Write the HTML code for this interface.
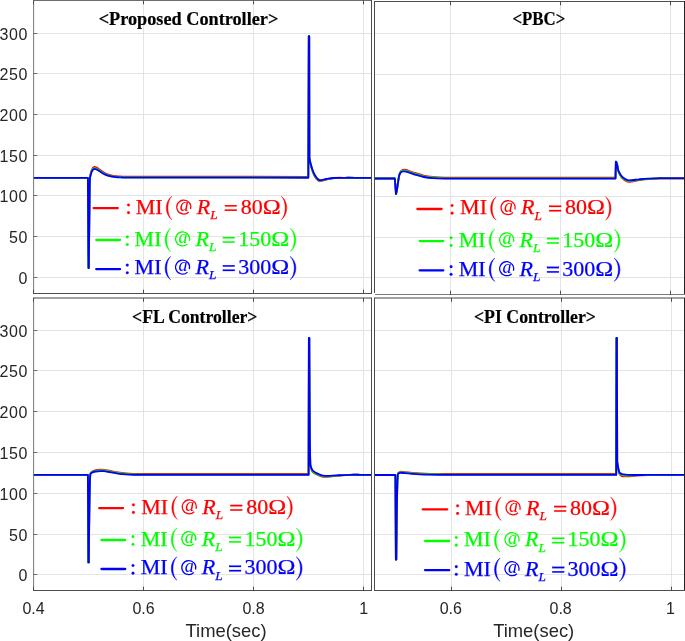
<!DOCTYPE html>
<html><head><meta charset="utf-8"><title>MI response comparison</title>
<style>
html,body{margin:0;padding:0;background:#fff;}
body{width:685px;height:641px;position:relative;overflow:hidden;}
svg text{white-space:pre;}
svg{will-change:transform;}
</style></head><body>
<svg width="685" height="641" viewBox="0 0 685 641" style="position:absolute;left:0;top:0">
<rect x="0" y="0" width="685" height="641" fill="#ffffff"/>
<path d="M143.50 0.50V293.50M253.50 0.50V293.50M363.50 0.50V293.50M33.50 277.50H371.50M33.50 236.50H371.50M33.50 195.50H371.50M33.50 155.50H371.50M33.50 114.50H371.50M33.50 73.50H371.50M33.50 33.50H371.50" stroke="#e3e3e3" stroke-width="1" fill="none"/>
<path d="M450.50 1.50V294.50M560.50 1.50V294.50M670.50 1.50V294.50M374.50 277.50H684.50M374.50 237.50H684.50M374.50 196.50H684.50M374.50 155.50H684.50M374.50 114.50H684.50M374.50 74.50H684.50M374.50 33.50H684.50" stroke="#e3e3e3" stroke-width="1" fill="none"/>
<path d="M143.50 298.00V590.50M253.50 298.00V590.50M363.50 298.00V590.50M33.50 574.50H371.50M33.50 534.50H371.50M33.50 493.50H371.50M33.50 452.50H371.50M33.50 411.50H371.50M33.50 370.50H371.50M33.50 330.50H371.50" stroke="#e3e3e3" stroke-width="1" fill="none"/>
<path d="M451.50 298.00V590.50M561.50 298.00V590.50M671.50 298.00V590.50M374.50 574.50H684.50M374.50 534.50H684.50M374.50 493.50H684.50M374.50 452.50H684.50M374.50 411.50H684.50M374.50 370.50H684.50M374.50 330.50H684.50" stroke="#e3e3e3" stroke-width="1" fill="none"/>
<path d="M33.50 177.80L87.90 177.80L88.50 268.00L88.80 268.00L89.70 185.00L90.00 176.80C90.15 176.11 90.60 173.80 90.90 172.66C91.20 171.51 91.50 170.67 91.80 169.93C92.10 169.20 92.40 168.69 92.70 168.26C93.00 167.83 93.30 167.57 93.60 167.36C93.90 167.16 94.20 167.07 94.50 167.02C94.80 166.97 95.10 167.01 95.40 167.07C95.70 167.13 96.00 167.25 96.30 167.39C96.60 167.53 96.90 167.70 97.20 167.88C97.50 168.07 97.80 168.28 98.10 168.48C98.40 168.69 98.70 168.92 99.00 169.14C99.30 169.36 99.60 169.59 99.90 169.81C100.20 170.04 100.50 170.26 100.80 170.48C101.10 170.70 101.40 170.92 101.70 171.13C102.00 171.33 102.30 171.54 102.60 171.73C102.90 171.93 103.20 172.12 103.50 172.30C103.80 172.48 104.10 172.66 104.40 172.82C104.70 172.99 105.00 173.14 105.30 173.30C105.60 173.45 105.90 173.59 106.20 173.72C106.50 173.86 106.80 173.99 107.10 174.11C107.40 174.23 107.70 174.34 108.00 174.45C108.30 174.56 108.60 174.66 108.90 174.75C109.20 174.85 109.50 174.94 109.80 175.02C110.10 175.11 110.40 175.19 110.70 175.26C111.00 175.33 111.30 175.40 111.60 175.47C111.90 175.53 112.20 175.59 112.50 175.65C112.80 175.71 113.10 175.76 113.40 175.81C113.70 175.86 114.00 175.90 114.30 175.95C114.60 175.99 114.90 176.03 115.20 176.07C115.50 176.10 115.80 176.14 116.10 176.17C116.40 176.20 116.70 176.23 117.00 176.26C117.30 176.29 117.60 176.31 117.90 176.34C118.20 176.36 118.50 176.38 118.80 176.40C119.10 176.42 119.40 176.44 119.70 176.46C120.00 176.48 120.30 176.50 120.60 176.51C120.90 176.53 121.20 176.54 121.50 176.55C121.80 176.57 122.10 176.58 122.40 176.59C122.70 176.60 123.00 176.61 123.30 176.62C123.60 176.63 123.90 176.64 124.20 176.65C124.50 176.66 124.80 176.66 125.10 176.67C125.40 176.68 125.85 176.69 126.00 176.69L308.30 176.80L308.80 36.20L309.20 36.20L309.40 158.00C309.60 159.03 310.02 161.83 310.60 164.20C311.18 166.57 312.12 170.02 312.90 172.20C313.68 174.38 314.23 175.83 315.30 177.30C316.37 178.77 317.48 180.62 319.30 181.00C321.12 181.38 323.75 180.10 326.20 179.60C328.65 179.10 330.87 178.30 334.00 178.00C337.13 177.70 341.50 177.83 345.00 177.80C348.50 177.77 353.33 177.80 355.00 177.80L371.50 177.80" stroke="#ff0000" stroke-width="1.85" fill="none" stroke-linejoin="round" stroke-linecap="butt"/>
<path d="M33.50 177.80L87.90 177.80L88.50 268.00L88.80 268.00L89.70 185.00L90.00 177.40C90.15 176.75 90.60 174.59 90.90 173.51C91.20 172.44 91.50 171.64 91.80 170.95C92.10 170.27 92.40 169.79 92.70 169.38C93.00 168.98 93.30 168.73 93.60 168.54C93.90 168.35 94.20 168.26 94.50 168.22C94.80 168.17 95.10 168.21 95.40 168.27C95.70 168.32 96.00 168.44 96.30 168.57C96.60 168.69 96.90 168.86 97.20 169.03C97.50 169.20 97.80 169.40 98.10 169.59C98.40 169.79 98.70 170.00 99.00 170.21C99.30 170.42 99.60 170.63 99.90 170.84C100.20 171.05 100.50 171.26 100.80 171.47C101.10 171.67 101.40 171.88 101.70 172.07C102.00 172.27 102.30 172.46 102.60 172.64C102.90 172.83 103.20 173.01 103.50 173.18C103.80 173.35 104.10 173.51 104.40 173.66C104.70 173.82 105.00 173.97 105.30 174.11C105.60 174.25 105.90 174.38 106.20 174.51C106.50 174.64 106.80 174.76 107.10 174.87C107.40 174.99 107.70 175.09 108.00 175.19C108.30 175.30 108.60 175.39 108.90 175.48C109.20 175.57 109.50 175.65 109.80 175.73C110.10 175.81 110.40 175.89 110.70 175.95C111.00 176.02 111.30 176.09 111.60 176.15C111.90 176.21 112.20 176.27 112.50 176.32C112.80 176.37 113.10 176.42 113.40 176.47C113.70 176.52 114.00 176.56 114.30 176.60C114.60 176.64 114.90 176.68 115.20 176.71C115.50 176.75 115.80 176.78 116.10 176.81C116.40 176.84 116.70 176.87 117.00 176.89C117.30 176.92 117.60 176.94 117.90 176.97C118.20 176.99 118.50 177.01 118.80 177.03C119.10 177.05 119.40 177.07 119.70 177.08C120.00 177.10 120.30 177.11 120.60 177.13C120.90 177.14 121.20 177.16 121.50 177.17C121.80 177.18 122.10 177.19 122.40 177.20C122.70 177.21 123.00 177.22 123.30 177.23C123.60 177.24 123.90 177.25 124.20 177.26C124.50 177.26 124.80 177.27 125.10 177.28C125.40 177.28 125.85 177.29 126.00 177.30L308.30 177.40L308.80 36.20L309.20 36.20L309.40 158.00C309.60 158.97 310.02 161.53 310.60 163.80C311.18 166.07 312.12 169.47 312.90 171.60C313.68 173.73 314.23 175.12 315.30 176.60C316.37 178.08 317.48 180.05 319.30 180.50C321.12 180.95 323.75 179.72 326.20 179.30C328.65 178.88 330.87 178.25 334.00 178.00C337.13 177.75 341.50 177.83 345.00 177.80C348.50 177.77 353.33 177.80 355.00 177.80L371.50 177.80" stroke="#00ff00" stroke-width="1.85" fill="none" stroke-linejoin="round" stroke-linecap="butt"/>
<path d="M33.50 177.80L87.90 177.80L88.50 268.00L88.80 268.00L89.70 185.00L90.00 177.70C90.15 177.09 90.60 175.04 90.90 174.02C91.20 173.01 91.50 172.26 91.80 171.60C92.10 170.95 92.40 170.50 92.70 170.12C93.00 169.74 93.30 169.51 93.60 169.32C93.90 169.14 94.20 169.06 94.50 169.02C94.80 168.97 95.10 169.01 95.40 169.06C95.70 169.12 96.00 169.23 96.30 169.35C96.60 169.47 96.90 169.62 97.20 169.78C97.50 169.95 97.80 170.13 98.10 170.32C98.40 170.50 98.70 170.70 99.00 170.90C99.30 171.10 99.60 171.30 99.90 171.50C100.20 171.70 100.50 171.90 100.80 172.09C101.10 172.29 101.40 172.48 101.70 172.66C102.00 172.85 102.30 173.03 102.60 173.20C102.90 173.38 103.20 173.54 103.50 173.71C103.80 173.87 104.10 174.02 104.40 174.17C104.70 174.31 105.00 174.46 105.30 174.59C105.60 174.72 105.90 174.85 106.20 174.97C106.50 175.09 106.80 175.20 107.10 175.31C107.40 175.42 107.70 175.52 108.00 175.61C108.30 175.71 108.60 175.80 108.90 175.88C109.20 175.97 109.50 176.05 109.80 176.12C110.10 176.20 110.40 176.27 110.70 176.33C111.00 176.40 111.30 176.46 111.60 176.52C111.90 176.58 112.20 176.63 112.50 176.68C112.80 176.73 113.10 176.78 113.40 176.82C113.70 176.86 114.00 176.90 114.30 176.94C114.60 176.98 114.90 177.02 115.20 177.05C115.50 177.08 115.80 177.11 116.10 177.14C116.40 177.17 116.70 177.20 117.00 177.22C117.30 177.24 117.60 177.27 117.90 177.29C118.20 177.31 118.50 177.33 118.80 177.35C119.10 177.37 119.40 177.38 119.70 177.40C120.00 177.42 120.30 177.43 120.60 177.44C120.90 177.46 121.20 177.47 121.50 177.48C121.80 177.49 122.10 177.50 122.40 177.51C122.70 177.52 123.00 177.53 123.30 177.54C123.60 177.55 123.90 177.56 124.20 177.56C124.50 177.57 124.80 177.58 125.10 177.58C125.40 177.59 125.85 177.60 126.00 177.60L308.30 177.70L308.80 36.20L309.20 36.20L309.40 158.00C309.60 158.90 310.02 161.23 310.60 163.40C311.18 165.57 312.12 168.92 312.90 171.00C313.68 173.08 314.23 174.40 315.30 175.90C316.37 177.40 317.48 179.48 319.30 180.00C321.12 180.52 323.75 179.33 326.20 179.00C328.65 178.67 330.87 178.20 334.00 178.00C337.13 177.80 341.50 177.83 345.00 177.80C348.50 177.77 353.33 177.80 355.00 177.80L371.50 177.80" stroke="#0000ff" stroke-width="1.85" fill="none" stroke-linejoin="round" stroke-linecap="butt"/>
<path d="M374.50 178.50L394.80 178.50L396.00 194.00C396.80 192.33 397.37 187.08 397.80 184.00C398.23 180.92 398.70 177.62 399.20 175.50C399.70 173.38 400.17 172.23 400.80 171.28C401.43 170.33 402.13 170.01 403.00 169.80C403.87 169.59 404.83 169.75 406.00 170.00C407.17 170.25 408.50 170.80 410.00 171.30C411.50 171.80 412.70 172.29 415.00 173.00C417.30 173.71 420.88 174.92 423.80 175.56C426.72 176.20 428.97 176.50 432.50 176.84C436.03 177.18 440.42 177.47 445.00 177.60C449.58 177.73 457.50 177.60 460.00 177.60L615.50 177.60L615.90 161.60C616.63 162.27 617.02 164.03 617.30 165.60C617.58 167.17 617.60 169.17 618.20 171.00C618.80 172.83 619.87 175.10 620.90 176.60C621.93 178.10 623.08 179.13 624.40 180.00C625.72 180.87 626.30 181.78 628.80 181.80C631.30 181.82 636.17 180.57 639.40 180.10C642.63 179.63 644.77 179.25 648.20 179.00C651.63 178.75 656.37 178.67 660.00 178.60C663.63 178.53 668.33 178.60 670.00 178.60L684.50 178.60" stroke="#ff0000" stroke-width="1.85" fill="none" stroke-linejoin="round" stroke-linecap="butt"/>
<path d="M374.50 178.50L394.80 178.50L396.00 194.00C396.80 192.33 397.37 187.08 397.80 184.00C398.23 180.92 398.70 177.53 399.20 175.50C399.70 173.47 400.17 172.66 400.80 171.84C401.43 171.02 402.13 170.77 403.00 170.60C403.87 170.43 404.83 170.55 406.00 170.80C407.17 171.05 408.50 171.60 410.00 172.10C411.50 172.60 412.70 173.10 415.00 173.80C417.30 174.50 420.88 175.66 423.80 176.28C426.72 176.90 428.97 177.18 432.50 177.52C436.03 177.86 440.42 178.17 445.00 178.30C449.58 178.43 457.50 178.30 460.00 178.30L615.50 178.30L615.90 161.60C616.63 162.22 617.02 163.82 617.30 165.30C617.58 166.78 617.60 168.73 618.20 170.50C618.80 172.27 619.87 174.43 620.90 175.90C621.93 177.37 623.08 178.43 624.40 179.30C625.72 180.17 626.30 181.03 628.80 181.10C631.30 181.17 636.17 180.08 639.40 179.70C642.63 179.32 644.77 179.03 648.20 178.80C651.63 178.57 656.37 178.38 660.00 178.30C663.63 178.22 668.33 178.30 670.00 178.30L684.50 178.30" stroke="#00ff00" stroke-width="1.85" fill="none" stroke-linejoin="round" stroke-linecap="butt"/>
<path d="M374.50 178.50L394.80 178.50L396.00 194.00C396.80 192.33 397.37 187.08 397.80 184.00C398.23 180.92 398.70 177.43 399.20 175.50C399.70 173.57 400.17 173.08 400.80 172.40C401.43 171.72 402.13 171.53 403.00 171.40C403.87 171.27 404.83 171.35 406.00 171.60C407.17 171.85 408.50 172.40 410.00 172.90C411.50 173.40 412.70 173.92 415.00 174.60C417.30 175.28 420.88 176.40 423.80 177.00C426.72 177.60 428.97 177.93 432.50 178.20C436.03 178.47 440.42 178.53 445.00 178.60C449.58 178.67 457.50 178.60 460.00 178.60L615.50 178.60L615.90 161.60C616.63 162.17 617.02 163.60 617.30 165.00C617.58 166.40 617.60 168.30 618.20 170.00C618.80 171.70 619.87 173.77 620.90 175.20C621.93 176.63 623.08 177.73 624.40 178.60C625.72 179.47 626.30 180.28 628.80 180.40C631.30 180.52 636.17 179.60 639.40 179.30C642.63 179.00 644.77 178.80 648.20 178.60C651.63 178.40 656.37 178.18 660.00 178.10C663.63 178.02 668.33 178.10 670.00 178.10L684.50 178.10" stroke="#0000ff" stroke-width="1.85" fill="none" stroke-linejoin="round" stroke-linecap="butt"/>
<path d="M33.50 474.80L87.90 474.80L88.40 562.40L88.80 562.40C89.52 476.32 89.98 473.89 90.60 472.90C91.22 471.91 92.10 471.55 93.00 471.08C93.90 470.61 94.83 470.33 96.00 470.10C97.17 469.87 98.67 469.75 100.00 469.70C101.33 469.65 102.33 469.59 104.00 469.80C105.67 470.01 107.67 470.49 110.00 470.94C112.33 471.39 115.33 472.07 118.00 472.48C120.67 472.89 123.00 473.18 126.00 473.42C129.00 473.66 134.33 473.82 136.00 473.90L308.60 473.90L308.90 338.00L309.30 338.00C309.75 462.68 310.03 464.52 310.50 466.10C310.97 467.68 311.48 470.13 312.40 471.50C313.32 472.87 314.42 473.47 316.00 474.30C317.58 475.13 319.95 476.07 321.90 476.50C323.85 476.93 325.27 477.02 327.70 476.90C330.13 476.78 332.78 476.15 336.50 475.80C340.22 475.45 346.08 474.97 350.00 474.80C353.92 474.63 358.33 474.80 360.00 474.80L371.50 474.80" stroke="#ff0000" stroke-width="1.85" fill="none" stroke-linejoin="round" stroke-linecap="butt"/>
<path d="M33.50 474.80L87.90 474.80L88.40 562.40L88.80 562.40C89.52 476.38 89.98 474.14 90.60 473.25C91.22 472.36 92.10 472.05 93.00 471.64C93.90 471.23 94.83 471.01 96.00 470.80C97.17 470.59 98.67 470.45 100.00 470.40C101.33 470.35 102.33 470.31 104.00 470.50C105.67 470.69 107.67 471.15 110.00 471.57C112.33 471.99 115.33 472.65 118.00 473.04C120.67 473.43 123.00 473.65 126.00 473.91C129.00 474.17 134.33 474.49 136.00 474.60L308.60 474.60L308.90 338.00L309.30 338.00C309.75 462.63 310.03 464.32 310.50 465.80C310.97 467.28 311.48 469.60 312.40 470.90C313.32 472.20 314.42 472.77 316.00 473.60C317.58 474.43 319.95 475.43 321.90 475.90C323.85 476.37 325.27 476.45 327.70 476.40C330.13 476.35 332.78 475.87 336.50 475.60C340.22 475.33 346.08 474.93 350.00 474.80C353.92 474.67 358.33 474.80 360.00 474.80L371.50 474.80" stroke="#00ff00" stroke-width="1.85" fill="none" stroke-linejoin="round" stroke-linecap="butt"/>
<path d="M33.50 474.80L87.90 474.80L88.40 562.40L88.80 562.40C89.52 476.43 89.98 474.40 90.60 473.60C91.22 472.80 92.10 472.55 93.00 472.20C93.90 471.85 94.83 471.68 96.00 471.50C97.17 471.32 98.67 471.15 100.00 471.10C101.33 471.05 102.33 471.02 104.00 471.20C105.67 471.38 107.67 471.80 110.00 472.20C112.33 472.60 115.33 473.23 118.00 473.60C120.67 473.97 123.00 474.18 126.00 474.40C129.00 474.62 134.33 474.82 136.00 474.90L308.60 474.90L308.90 338.00L309.30 338.00C309.75 462.58 310.03 464.12 310.50 465.50C310.97 466.88 311.48 469.07 312.40 470.30C313.32 471.53 314.42 472.07 316.00 472.90C317.58 473.73 319.95 474.80 321.90 475.30C323.85 475.80 325.27 475.88 327.70 475.90C330.13 475.92 332.78 475.58 336.50 475.40C340.22 475.22 346.08 474.90 350.00 474.80C353.92 474.70 358.33 474.80 360.00 474.80L371.50 474.80" stroke="#0000ff" stroke-width="1.85" fill="none" stroke-linejoin="round" stroke-linecap="butt"/>
<path d="M374.50 475.00L395.40 475.00L395.90 559.50L396.30 559.50C397.03 475.52 397.62 473.80 398.20 473.10C398.78 472.40 399.17 471.97 400.30 471.80C401.43 471.63 403.05 471.93 405.00 472.10C406.95 472.27 409.50 472.58 412.00 472.80C414.50 473.02 417.00 473.23 420.00 473.40C423.00 473.57 425.83 473.72 430.00 473.80C434.17 473.88 440.83 473.88 445.00 473.90C449.17 473.92 453.33 473.90 455.00 473.90L616.20 473.90L616.50 338.00L616.90 338.00L617.20 462.00C617.33 462.88 617.67 465.40 618.00 467.30C618.33 469.20 618.70 472.02 619.20 473.40C619.70 474.78 620.33 475.10 621.00 475.60C621.67 476.10 622.03 476.28 623.20 476.40C624.37 476.52 625.20 476.47 628.00 476.30C630.80 476.13 635.50 475.65 640.00 475.40C644.50 475.15 652.50 474.90 655.00 474.80L684.50 474.80" stroke="#ff0000" stroke-width="1.85" fill="none" stroke-linejoin="round" stroke-linecap="butt"/>
<path d="M374.50 475.00L395.40 475.00L395.90 559.50L396.30 559.50C397.03 475.56 397.62 473.97 398.20 473.35C398.78 472.73 399.17 472.43 400.30 472.30C401.43 472.18 403.05 472.43 405.00 472.60C406.95 472.77 409.50 473.08 412.00 473.30C414.50 473.52 417.00 473.74 420.00 473.90C423.00 474.06 425.83 474.13 430.00 474.25C434.17 474.37 440.83 474.54 445.00 474.60C449.17 474.66 453.33 474.60 455.00 474.60L616.20 474.60L616.50 338.00L616.90 338.00L617.20 462.00C617.33 462.82 617.67 465.13 618.00 466.90C618.33 468.67 618.70 471.32 619.20 472.60C619.70 473.88 620.33 474.13 621.00 474.60C621.67 475.07 622.03 475.23 623.20 475.40C624.37 475.57 625.20 475.63 628.00 475.60C630.80 475.57 635.50 475.33 640.00 475.20C644.50 475.07 652.50 474.87 655.00 474.80L684.50 474.80" stroke="#00ff00" stroke-width="1.85" fill="none" stroke-linejoin="round" stroke-linecap="butt"/>
<path d="M374.50 475.00L395.40 475.00L395.90 559.50L396.30 559.50C397.03 475.60 397.62 474.13 398.20 473.60C398.78 473.07 399.17 472.88 400.30 472.80C401.43 472.72 403.05 472.93 405.00 473.10C406.95 473.27 409.50 473.58 412.00 473.80C414.50 474.02 417.00 474.25 420.00 474.40C423.00 474.55 425.83 474.62 430.00 474.70C434.17 474.78 440.83 474.87 445.00 474.90C449.17 474.93 453.33 474.90 455.00 474.90L616.20 474.90L616.50 338.00L616.90 338.00L617.20 462.00C617.33 462.75 617.67 464.87 618.00 466.50C618.33 468.13 618.70 470.62 619.20 471.80C619.70 472.98 620.33 473.17 621.00 473.60C621.67 474.03 622.03 474.18 623.20 474.40C624.37 474.62 625.20 474.80 628.00 474.90C630.80 475.00 635.50 475.02 640.00 475.00C644.50 474.98 652.50 474.83 655.00 474.80L684.50 474.80" stroke="#0000ff" stroke-width="1.85" fill="none" stroke-linejoin="round" stroke-linecap="butt"/>
<line x1="33.62" y1="0" x2="33.62" y2="294" stroke="#777" stroke-width="1"/>
<line x1="33" y1="0.5" x2="372" y2="0.5" stroke="#6e6e6e" stroke-width="1"/>
<line x1="371.5" y1="0" x2="371.5" y2="294" stroke="#4d4d4d" stroke-width="1"/>
<line x1="33" y1="293.5" x2="372" y2="293.5" stroke="#4d4d4d" stroke-width="1"/>
<line x1="374.5" y1="1" x2="374.5" y2="293" stroke="#4d4d4d" stroke-width="1"/>
<line x1="374" y1="1.5" x2="685" y2="1.5" stroke="#4d4d4d" stroke-width="1"/>
<line x1="684.5" y1="1" x2="684.5" y2="295" stroke="#222" stroke-width="1"/>
<line x1="375" y1="294.5" x2="685" y2="294.5" stroke="#7a7a7a" stroke-width="1"/>
<line x1="33.62" y1="298" x2="33.62" y2="591" stroke="#777" stroke-width="1"/>
<line x1="33" y1="298.0" x2="372" y2="298.0" stroke="#444" stroke-width="1"/>
<line x1="371.5" y1="298" x2="371.5" y2="591" stroke="#4d4d4d" stroke-width="1"/>
<line x1="33" y1="590.5" x2="372" y2="590.5" stroke="#4d4d4d" stroke-width="1"/>
<line x1="374.5" y1="298" x2="374.5" y2="591" stroke="#4d4d4d" stroke-width="1"/>
<line x1="374" y1="298.0" x2="685" y2="298.0" stroke="#444" stroke-width="1"/>
<line x1="684.5" y1="298" x2="684.5" y2="591" stroke="#222" stroke-width="1"/>
<line x1="374" y1="590.5" x2="685" y2="590.5" stroke="#4d4d4d" stroke-width="1"/>
<path d="M33.50 277.50h3.8M33.50 236.50h3.8M33.50 195.50h3.8M33.50 155.50h3.8M33.50 114.50h3.8M33.50 73.50h3.8M33.50 33.50h3.8" stroke="#707070" stroke-width="1" fill="none"/>
<path d="M33.50 293.50v-3.8M33.50 0.50v3.8M143.50 293.50v-3.8M143.50 0.50v3.8M253.50 293.50v-3.8M253.50 0.50v3.8M363.50 293.50v-3.8M363.50 0.50v3.8" stroke="#4d4d4d" stroke-width="1" fill="none"/>
<path d="M450.50 294.50v-3.8M450.50 1.50v3.8M560.50 294.50v-3.8M560.50 1.50v3.8M670.50 294.50v-3.8M670.50 1.50v3.8" stroke="#4d4d4d" stroke-width="1" fill="none"/>
<path d="M33.50 574.50h3.8M33.50 534.50h3.8M33.50 493.50h3.8M33.50 452.50h3.8M33.50 411.50h3.8M33.50 370.50h3.8M33.50 330.50h3.8" stroke="#707070" stroke-width="1" fill="none"/>
<path d="M33.50 590.50v-3.8M33.50 298.00v3.8M143.50 590.50v-3.8M143.50 298.00v3.8M253.50 590.50v-3.8M253.50 298.00v3.8M363.50 590.50v-3.8M363.50 298.00v3.8" stroke="#4d4d4d" stroke-width="1" fill="none"/>
<path d="M451.50 590.50v-3.8M451.50 298.00v3.8M561.50 590.50v-3.8M561.50 298.00v3.8M671.50 590.50v-3.8M671.50 298.00v3.8" stroke="#4d4d4d" stroke-width="1" fill="none"/>
<g style="font-family:'Liberation Sans',sans-serif;font-size:16px" fill="#262626">
<text x="27.9" y="283.80" text-anchor="end" letter-spacing="0.6">0</text>
<text x="27.9" y="242.80" text-anchor="end" letter-spacing="0.6">50</text>
<text x="27.9" y="201.80" text-anchor="end" letter-spacing="0.6">100</text>
<text x="27.9" y="161.80" text-anchor="end" letter-spacing="0.6">150</text>
<text x="27.9" y="120.80" text-anchor="end" letter-spacing="0.6">200</text>
<text x="27.9" y="79.80" text-anchor="end" letter-spacing="0.6">250</text>
<text x="27.9" y="39.80" text-anchor="end" letter-spacing="0.6">300</text>
<text x="27.9" y="580.80" text-anchor="end" letter-spacing="0.6">0</text>
<text x="27.9" y="540.80" text-anchor="end" letter-spacing="0.6">50</text>
<text x="27.9" y="499.80" text-anchor="end" letter-spacing="0.6">100</text>
<text x="27.9" y="458.80" text-anchor="end" letter-spacing="0.6">150</text>
<text x="27.9" y="417.80" text-anchor="end" letter-spacing="0.6">200</text>
<text x="27.9" y="376.80" text-anchor="end" letter-spacing="0.6">250</text>
<text x="27.9" y="336.80" text-anchor="end" letter-spacing="0.6">300</text>
<text x="33.50" y="613.9" text-anchor="middle">0.4</text>
<text x="143.53" y="613.9" text-anchor="middle">0.6</text>
<text x="253.57" y="613.9" text-anchor="middle">0.8</text>
<text x="363.60" y="613.9" text-anchor="middle">1</text>
<text x="450.80" y="613.9" text-anchor="middle">0.6</text>
<text x="560.65" y="613.9" text-anchor="middle">0.8</text>
<text x="670.50" y="613.9" text-anchor="middle">1</text>
</g>
<g style="font-family:'Liberation Sans',sans-serif;font-size:18.4px" fill="#262626">
<text x="226.1" y="636.9" text-anchor="middle">Time(sec)</text>
<text x="533.7" y="636.9" text-anchor="middle">Time(sec)</text>
</g>
<g style="font-family:'Liberation Serif',serif;font-size:18px;font-weight:bold" fill="#000" stroke="#000" stroke-width="0.2">
<text x="98.7" y="24.7" textLength="179.6" lengthAdjust="spacingAndGlyphs">&lt;Proposed Controller&gt;</text>
<text x="512.4" y="24.5" textLength="52.9" lengthAdjust="spacingAndGlyphs">&lt;PBC&gt;</text>
<text x="132.1" y="322.6" textLength="125.3" lengthAdjust="spacingAndGlyphs">&lt;FL Controller&gt;</text>
<text x="474.0" y="323.0" textLength="122.0" lengthAdjust="spacingAndGlyphs">&lt;PI Controller&gt;</text>
</g>
<line x1="93.60" y1="208.1" x2="117.80" y2="208.1" stroke="#ff0000" stroke-width="2.3" stroke-linecap="round"/>
<g fill="#ff0000" stroke="#ff0000" stroke-width="0.25" style="font-family:'Liberation Serif',serif" transform="translate(136.10,213.90)">
<circle cx="-7.60" cy="-8.9" r="1.35"/><circle cx="-7.60" cy="-1.25" r="1.35"/>
<text x="-0.30" y="0" style="font-size:22px">MI</text>
<path d="M35.80 -17.60C28.33 -12.45 28.33 0.65 35.80 5.80C30.47 0.65 30.47 -12.45 35.80 -17.60Z" stroke="#ff0000" stroke-width="0.45"/>
<path d="M54.4 -4.9A7.0 7.0 0 1 0 52.6 -1.9" fill="none" stroke="#ff0000" stroke-width="1.25"/>
<text x="43.60" y="-2.90" stroke="none" style="font-size:18px;font-style:italic">a</text>
<text x="60.60" y="0" style="font-size:22px;font-style:italic">R</text>
<text x="74.10" y="5.3" style="font-size:13.3px;font-style:italic">L</text>
<rect x="88.80" y="-8.8" width="11.9" height="1.4"/><rect x="88.80" y="-4.4" width="11.9" height="1.4"/>
<text x="104.70" y="0" style="font-size:22px">80</text>
<text x="126.70" y="0" style="font-size:22px" transform="translate(126.70,0) scale(1.1,1) translate(-126.70,0)">Ω</text>
<path d="M145.20 -17.60C152.53 -12.45 152.53 0.65 145.20 5.80C150.40 0.65 150.40 -12.45 145.20 -17.60Z" stroke="#ff0000" stroke-width="0.45"/>
</g>
<line x1="96.30" y1="240.0" x2="120.00" y2="240.0" stroke="#00ff00" stroke-width="2.3" stroke-linecap="round"/>
<g fill="#00ff00" stroke="#00ff00" stroke-width="0.25" style="font-family:'Liberation Serif',serif" transform="translate(134.90,245.80)">
<circle cx="-7.60" cy="-8.9" r="1.35"/><circle cx="-7.60" cy="-1.25" r="1.35"/>
<text x="-0.30" y="0" style="font-size:22px">MI</text>
<path d="M35.80 -17.60C28.33 -12.45 28.33 0.65 35.80 5.80C30.47 0.65 30.47 -12.45 35.80 -17.60Z" stroke="#00ff00" stroke-width="0.45"/>
<path d="M54.4 -4.9A7.0 7.0 0 1 0 52.6 -1.9" fill="none" stroke="#00ff00" stroke-width="1.25"/>
<text x="43.60" y="-2.90" stroke="none" style="font-size:18px;font-style:italic">a</text>
<text x="60.60" y="0" style="font-size:22px;font-style:italic">R</text>
<text x="74.10" y="5.3" style="font-size:13.3px;font-style:italic">L</text>
<rect x="88.00" y="-8.8" width="11.9" height="1.4"/><rect x="88.00" y="-4.4" width="11.9" height="1.4"/>
<text x="103.30" y="0" style="font-size:22px">150</text>
<text x="136.30" y="0" style="font-size:22px" transform="translate(136.30,0) scale(1.1,1) translate(-136.30,0)">Ω</text>
<path d="M155.10 -17.60C162.97 -12.45 162.97 0.65 155.10 5.80C160.83 0.65 160.83 -12.45 155.10 -17.60Z" stroke="#00ff00" stroke-width="0.45"/>
</g>
<line x1="96.30" y1="269.2" x2="120.00" y2="269.2" stroke="#0000ff" stroke-width="2.3" stroke-linecap="round"/>
<g fill="#0000ff" stroke="#0000ff" stroke-width="0.25" style="font-family:'Liberation Serif',serif" transform="translate(134.90,274.00)">
<circle cx="-7.60" cy="-8.9" r="1.35"/><circle cx="-7.60" cy="-1.25" r="1.35"/>
<text x="-0.30" y="0" style="font-size:22px">MI</text>
<path d="M35.80 -17.60C28.33 -12.45 28.33 0.65 35.80 5.80C30.47 0.65 30.47 -12.45 35.80 -17.60Z" stroke="#0000ff" stroke-width="0.45"/>
<path d="M54.4 -4.9A7.0 7.0 0 1 0 52.6 -1.9" fill="none" stroke="#0000ff" stroke-width="1.25"/>
<text x="43.60" y="-2.90" stroke="none" style="font-size:18px;font-style:italic">a</text>
<text x="60.60" y="0" style="font-size:22px;font-style:italic">R</text>
<text x="74.10" y="5.3" style="font-size:13.3px;font-style:italic">L</text>
<rect x="88.00" y="-8.8" width="11.9" height="1.4"/><rect x="88.00" y="-4.4" width="11.9" height="1.4"/>
<text x="103.30" y="0" style="font-size:22px">300</text>
<text x="136.30" y="0" style="font-size:22px" transform="translate(136.30,0) scale(1.1,1) translate(-136.30,0)">Ω</text>
<path d="M155.10 -17.60C162.97 -12.45 162.97 0.65 155.10 5.80C160.83 0.65 160.83 -12.45 155.10 -17.60Z" stroke="#0000ff" stroke-width="0.45"/>
</g>
<line x1="417.40" y1="209.0" x2="441.60" y2="209.0" stroke="#ff0000" stroke-width="2.3" stroke-linecap="round"/>
<g fill="#ff0000" stroke="#ff0000" stroke-width="0.25" style="font-family:'Liberation Serif',serif" transform="translate(460.40,214.40)">
<circle cx="-8.30" cy="-8.9" r="1.35"/><circle cx="-8.30" cy="-1.25" r="1.35"/>
<text x="-0.30" y="0" style="font-size:22px">MI</text>
<path d="M35.80 -17.60C28.33 -12.45 28.33 0.65 35.80 5.80C30.47 0.65 30.47 -12.45 35.80 -17.60Z" stroke="#ff0000" stroke-width="0.45"/>
<path d="M54.4 -4.9A7.0 7.0 0 1 0 52.6 -1.9" fill="none" stroke="#ff0000" stroke-width="1.25"/>
<text x="43.60" y="-2.90" stroke="none" style="font-size:18px;font-style:italic">a</text>
<text x="60.60" y="0" style="font-size:22px;font-style:italic">R</text>
<text x="74.10" y="5.3" style="font-size:13.3px;font-style:italic">L</text>
<rect x="88.80" y="-8.8" width="11.9" height="1.4"/><rect x="88.80" y="-4.4" width="11.9" height="1.4"/>
<text x="104.70" y="0" style="font-size:22px">80</text>
<text x="126.70" y="0" style="font-size:22px" transform="translate(126.70,0) scale(1.1,1) translate(-126.70,0)">Ω</text>
<path d="M145.20 -17.60C152.53 -12.45 152.53 0.65 145.20 5.80C150.40 0.65 150.40 -12.45 145.20 -17.60Z" stroke="#ff0000" stroke-width="0.45"/>
</g>
<line x1="419.60" y1="241.1" x2="443.30" y2="241.1" stroke="#00ff00" stroke-width="2.3" stroke-linecap="round"/>
<g fill="#00ff00" stroke="#00ff00" stroke-width="0.25" style="font-family:'Liberation Serif',serif" transform="translate(459.00,246.70)">
<circle cx="-7.90" cy="-8.9" r="1.35"/><circle cx="-7.90" cy="-1.25" r="1.35"/>
<text x="-0.30" y="0" style="font-size:22px">MI</text>
<path d="M35.80 -17.60C28.33 -12.45 28.33 0.65 35.80 5.80C30.47 0.65 30.47 -12.45 35.80 -17.60Z" stroke="#00ff00" stroke-width="0.45"/>
<path d="M54.4 -4.9A7.0 7.0 0 1 0 52.6 -1.9" fill="none" stroke="#00ff00" stroke-width="1.25"/>
<text x="43.60" y="-2.90" stroke="none" style="font-size:18px;font-style:italic">a</text>
<text x="60.60" y="0" style="font-size:22px;font-style:italic">R</text>
<text x="74.10" y="5.3" style="font-size:13.3px;font-style:italic">L</text>
<rect x="88.00" y="-8.8" width="11.9" height="1.4"/><rect x="88.00" y="-4.4" width="11.9" height="1.4"/>
<text x="103.30" y="0" style="font-size:22px">150</text>
<text x="136.30" y="0" style="font-size:22px" transform="translate(136.30,0) scale(1.1,1) translate(-136.30,0)">Ω</text>
<path d="M155.10 -17.60C162.97 -12.45 162.97 0.65 155.10 5.80C160.83 0.65 160.83 -12.45 155.10 -17.60Z" stroke="#00ff00" stroke-width="0.45"/>
</g>
<line x1="419.60" y1="270.3" x2="443.30" y2="270.3" stroke="#0000ff" stroke-width="2.3" stroke-linecap="round"/>
<g fill="#0000ff" stroke="#0000ff" stroke-width="0.25" style="font-family:'Liberation Serif',serif" transform="translate(459.00,275.60)">
<circle cx="-7.90" cy="-8.9" r="1.35"/><circle cx="-7.90" cy="-1.25" r="1.35"/>
<text x="-0.30" y="0" style="font-size:22px">MI</text>
<path d="M35.80 -17.60C28.33 -12.45 28.33 0.65 35.80 5.80C30.47 0.65 30.47 -12.45 35.80 -17.60Z" stroke="#0000ff" stroke-width="0.45"/>
<path d="M54.4 -4.9A7.0 7.0 0 1 0 52.6 -1.9" fill="none" stroke="#0000ff" stroke-width="1.25"/>
<text x="43.60" y="-2.90" stroke="none" style="font-size:18px;font-style:italic">a</text>
<text x="60.60" y="0" style="font-size:22px;font-style:italic">R</text>
<text x="74.10" y="5.3" style="font-size:13.3px;font-style:italic">L</text>
<rect x="88.00" y="-8.8" width="11.9" height="1.4"/><rect x="88.00" y="-4.4" width="11.9" height="1.4"/>
<text x="103.30" y="0" style="font-size:22px">300</text>
<text x="136.30" y="0" style="font-size:22px" transform="translate(136.30,0) scale(1.1,1) translate(-136.30,0)">Ω</text>
<path d="M155.10 -17.60C162.97 -12.45 162.97 0.65 155.10 5.80C160.83 0.65 160.83 -12.45 155.10 -17.60Z" stroke="#0000ff" stroke-width="0.45"/>
</g>
<line x1="99.20" y1="508.1" x2="123.00" y2="508.1" stroke="#ff0000" stroke-width="2.3" stroke-linecap="round"/>
<g fill="#ff0000" stroke="#ff0000" stroke-width="0.25" style="font-family:'Liberation Serif',serif" transform="translate(141.60,513.70)">
<circle cx="-8.20" cy="-8.9" r="1.35"/><circle cx="-8.20" cy="-1.25" r="1.35"/>
<text x="-0.30" y="0" style="font-size:22px">MI</text>
<path d="M35.80 -17.60C28.33 -12.45 28.33 0.65 35.80 5.80C30.47 0.65 30.47 -12.45 35.80 -17.60Z" stroke="#ff0000" stroke-width="0.45"/>
<path d="M54.4 -4.9A7.0 7.0 0 1 0 52.6 -1.9" fill="none" stroke="#ff0000" stroke-width="1.25"/>
<text x="43.60" y="-2.90" stroke="none" style="font-size:18px;font-style:italic">a</text>
<text x="60.60" y="0" style="font-size:22px;font-style:italic">R</text>
<text x="74.10" y="5.3" style="font-size:13.3px;font-style:italic">L</text>
<rect x="88.80" y="-8.8" width="11.9" height="1.4"/><rect x="88.80" y="-4.4" width="11.9" height="1.4"/>
<text x="104.70" y="0" style="font-size:22px">80</text>
<text x="126.70" y="0" style="font-size:22px" transform="translate(126.70,0) scale(1.1,1) translate(-126.70,0)">Ω</text>
<path d="M145.20 -17.60C152.53 -12.45 152.53 0.65 145.20 5.80C150.40 0.65 150.40 -12.45 145.20 -17.60Z" stroke="#ff0000" stroke-width="0.45"/>
</g>
<line x1="101.50" y1="540.0" x2="125.20" y2="540.0" stroke="#00ff00" stroke-width="2.3" stroke-linecap="round"/>
<g fill="#00ff00" stroke="#00ff00" stroke-width="0.25" style="font-family:'Liberation Serif',serif" transform="translate(141.10,545.60)">
<circle cx="-8.10" cy="-8.9" r="1.35"/><circle cx="-8.10" cy="-1.25" r="1.35"/>
<text x="-0.30" y="0" style="font-size:22px">MI</text>
<path d="M35.80 -17.60C28.33 -12.45 28.33 0.65 35.80 5.80C30.47 0.65 30.47 -12.45 35.80 -17.60Z" stroke="#00ff00" stroke-width="0.45"/>
<path d="M54.4 -4.9A7.0 7.0 0 1 0 52.6 -1.9" fill="none" stroke="#00ff00" stroke-width="1.25"/>
<text x="43.60" y="-2.90" stroke="none" style="font-size:18px;font-style:italic">a</text>
<text x="60.60" y="0" style="font-size:22px;font-style:italic">R</text>
<text x="74.10" y="5.3" style="font-size:13.3px;font-style:italic">L</text>
<rect x="88.00" y="-8.8" width="11.9" height="1.4"/><rect x="88.00" y="-4.4" width="11.9" height="1.4"/>
<text x="103.30" y="0" style="font-size:22px">150</text>
<text x="136.30" y="0" style="font-size:22px" transform="translate(136.30,0) scale(1.1,1) translate(-136.30,0)">Ω</text>
<path d="M155.10 -17.60C162.97 -12.45 162.97 0.65 155.10 5.80C160.83 0.65 160.83 -12.45 155.10 -17.60Z" stroke="#00ff00" stroke-width="0.45"/>
</g>
<line x1="101.50" y1="569.0" x2="125.20" y2="569.0" stroke="#0000ff" stroke-width="2.3" stroke-linecap="round"/>
<g fill="#0000ff" stroke="#0000ff" stroke-width="0.25" style="font-family:'Liberation Serif',serif" transform="translate(141.10,574.40)">
<circle cx="-8.10" cy="-8.9" r="1.35"/><circle cx="-8.10" cy="-1.25" r="1.35"/>
<text x="-0.30" y="0" style="font-size:22px">MI</text>
<path d="M35.80 -17.60C28.33 -12.45 28.33 0.65 35.80 5.80C30.47 0.65 30.47 -12.45 35.80 -17.60Z" stroke="#0000ff" stroke-width="0.45"/>
<path d="M54.4 -4.9A7.0 7.0 0 1 0 52.6 -1.9" fill="none" stroke="#0000ff" stroke-width="1.25"/>
<text x="43.60" y="-2.90" stroke="none" style="font-size:18px;font-style:italic">a</text>
<text x="60.60" y="0" style="font-size:22px;font-style:italic">R</text>
<text x="74.10" y="5.3" style="font-size:13.3px;font-style:italic">L</text>
<rect x="88.00" y="-8.8" width="11.9" height="1.4"/><rect x="88.00" y="-4.4" width="11.9" height="1.4"/>
<text x="103.30" y="0" style="font-size:22px">300</text>
<text x="136.30" y="0" style="font-size:22px" transform="translate(136.30,0) scale(1.1,1) translate(-136.30,0)">Ω</text>
<path d="M155.10 -17.60C162.97 -12.45 162.97 0.65 155.10 5.80C160.83 0.65 160.83 -12.45 155.10 -17.60Z" stroke="#0000ff" stroke-width="0.45"/>
</g>
<line x1="422.70" y1="509.3" x2="447.20" y2="509.3" stroke="#ff0000" stroke-width="2.3" stroke-linecap="round"/>
<g fill="#ff0000" stroke="#ff0000" stroke-width="0.25" style="font-family:'Liberation Serif',serif" transform="translate(465.40,514.70)">
<circle cx="-7.80" cy="-8.9" r="1.35"/><circle cx="-7.80" cy="-1.25" r="1.35"/>
<text x="-0.30" y="0" style="font-size:22px">MI</text>
<path d="M35.80 -17.60C28.33 -12.45 28.33 0.65 35.80 5.80C30.47 0.65 30.47 -12.45 35.80 -17.60Z" stroke="#ff0000" stroke-width="0.45"/>
<path d="M54.4 -4.9A7.0 7.0 0 1 0 52.6 -1.9" fill="none" stroke="#ff0000" stroke-width="1.25"/>
<text x="43.60" y="-2.90" stroke="none" style="font-size:18px;font-style:italic">a</text>
<text x="60.60" y="0" style="font-size:22px;font-style:italic">R</text>
<text x="74.10" y="5.3" style="font-size:13.3px;font-style:italic">L</text>
<rect x="88.80" y="-8.8" width="11.9" height="1.4"/><rect x="88.80" y="-4.4" width="11.9" height="1.4"/>
<text x="104.70" y="0" style="font-size:22px">80</text>
<text x="126.70" y="0" style="font-size:22px" transform="translate(126.70,0) scale(1.1,1) translate(-126.70,0)">Ω</text>
<path d="M145.20 -17.60C152.53 -12.45 152.53 0.65 145.20 5.80C150.40 0.65 150.40 -12.45 145.20 -17.60Z" stroke="#ff0000" stroke-width="0.45"/>
</g>
<line x1="425.10" y1="541.0" x2="449.20" y2="541.0" stroke="#00ff00" stroke-width="2.3" stroke-linecap="round"/>
<g fill="#00ff00" stroke="#00ff00" stroke-width="0.25" style="font-family:'Liberation Serif',serif" transform="translate(464.30,546.40)">
<circle cx="-8.00" cy="-8.9" r="1.35"/><circle cx="-8.00" cy="-1.25" r="1.35"/>
<text x="-0.30" y="0" style="font-size:22px">MI</text>
<path d="M35.80 -17.60C28.33 -12.45 28.33 0.65 35.80 5.80C30.47 0.65 30.47 -12.45 35.80 -17.60Z" stroke="#00ff00" stroke-width="0.45"/>
<path d="M54.4 -4.9A7.0 7.0 0 1 0 52.6 -1.9" fill="none" stroke="#00ff00" stroke-width="1.25"/>
<text x="43.60" y="-2.90" stroke="none" style="font-size:18px;font-style:italic">a</text>
<text x="60.60" y="0" style="font-size:22px;font-style:italic">R</text>
<text x="74.10" y="5.3" style="font-size:13.3px;font-style:italic">L</text>
<rect x="88.00" y="-8.8" width="11.9" height="1.4"/><rect x="88.00" y="-4.4" width="11.9" height="1.4"/>
<text x="103.30" y="0" style="font-size:22px">150</text>
<text x="136.30" y="0" style="font-size:22px" transform="translate(136.30,0) scale(1.1,1) translate(-136.30,0)">Ω</text>
<path d="M155.10 -17.60C162.97 -12.45 162.97 0.65 155.10 5.80C160.83 0.65 160.83 -12.45 155.10 -17.60Z" stroke="#00ff00" stroke-width="0.45"/>
</g>
<line x1="425.10" y1="570.2" x2="449.20" y2="570.2" stroke="#0000ff" stroke-width="2.3" stroke-linecap="round"/>
<g fill="#0000ff" stroke="#0000ff" stroke-width="0.25" style="font-family:'Liberation Serif',serif" transform="translate(464.30,575.60)">
<circle cx="-8.00" cy="-8.9" r="1.35"/><circle cx="-8.00" cy="-1.25" r="1.35"/>
<text x="-0.30" y="0" style="font-size:22px">MI</text>
<path d="M35.80 -17.60C28.33 -12.45 28.33 0.65 35.80 5.80C30.47 0.65 30.47 -12.45 35.80 -17.60Z" stroke="#0000ff" stroke-width="0.45"/>
<path d="M54.4 -4.9A7.0 7.0 0 1 0 52.6 -1.9" fill="none" stroke="#0000ff" stroke-width="1.25"/>
<text x="43.60" y="-2.90" stroke="none" style="font-size:18px;font-style:italic">a</text>
<text x="60.60" y="0" style="font-size:22px;font-style:italic">R</text>
<text x="74.10" y="5.3" style="font-size:13.3px;font-style:italic">L</text>
<rect x="88.00" y="-8.8" width="11.9" height="1.4"/><rect x="88.00" y="-4.4" width="11.9" height="1.4"/>
<text x="103.30" y="0" style="font-size:22px">300</text>
<text x="136.30" y="0" style="font-size:22px" transform="translate(136.30,0) scale(1.1,1) translate(-136.30,0)">Ω</text>
<path d="M155.10 -17.60C162.97 -12.45 162.97 0.65 155.10 5.80C160.83 0.65 160.83 -12.45 155.10 -17.60Z" stroke="#0000ff" stroke-width="0.45"/>
</g>
</svg>
</body></html>
